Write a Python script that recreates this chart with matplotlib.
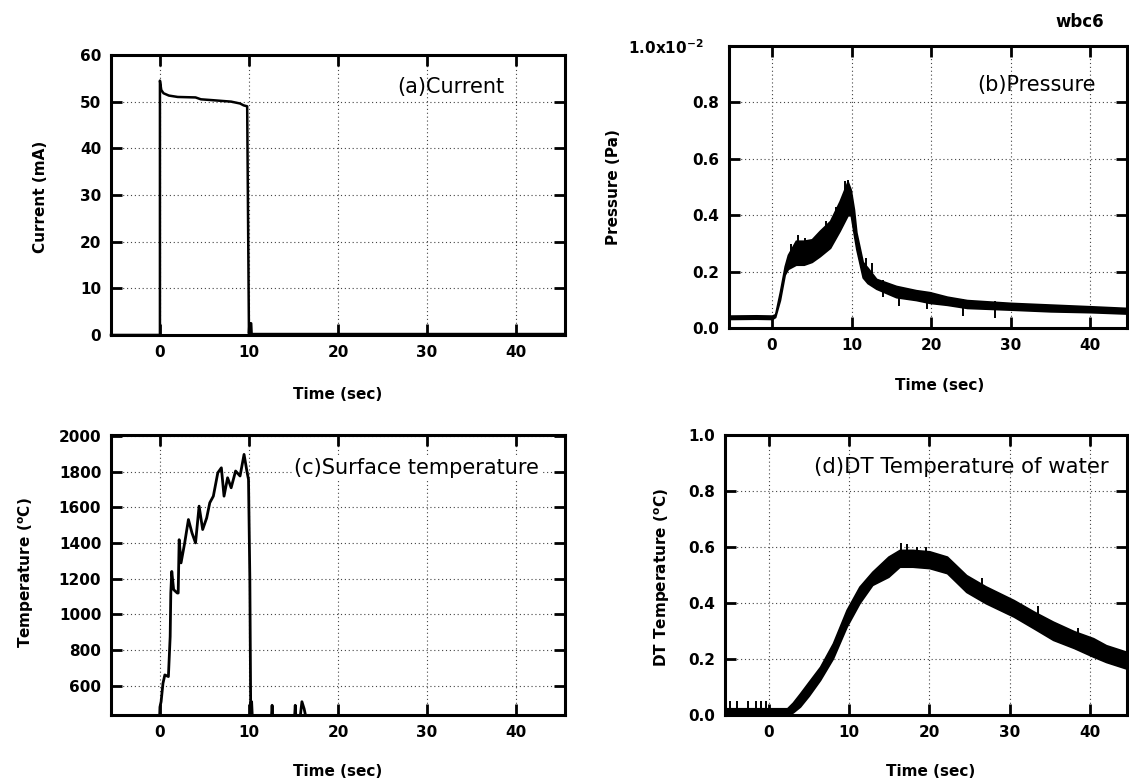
#! /usr/bin/python3
"""wbc6 -- current, pressure, surface temperature and water DT vs time."""
import matplotlib
matplotlib.use("Agg")
import matplotlib.pyplot as plt

plt.rcParams["font.family"] = ["DejaVu Sans"]
plt.rcParams["mathtext.fontset"] = "custom"
plt.rcParams["mathtext.rm"] = "DejaVu Sans"
plt.rcParams["mathtext.bf"] = "DejaVu Sans:bold"

# (a) discharge current, mA
cur_t = [-5.5, 0.0, 0.0, 0.15, 0.4, 1.0, 2.0, 4.0, 4.6, 6.0, 8.0, 9.0, 9.4,
         9.8, 10.0, 10.05, 10.25, 10.3, 45.5]
cur_v = [0.0, 0.0, 54.5, 52.5, 51.8, 51.3, 51.0, 50.9, 50.5, 50.3, 50.0, 49.6,
         49.2, 49.0, 0.3, 2.5, 2.5, 0.2, 0.2]

# (b) pressure, x1e-2 Pa : lower / upper edge of the noisy trace
p_t = [-5.4, -2.0, 0.0, 0.4, 1.0, 1.6, 2.0, 3.0, 4.0, 5.0, 6.0, 7.3, 8.5,
       9.5, 9.9, 10.3, 10.6, 11.4, 12.0, 13.1, 15.6, 18.1, 19.8, 22.0, 24.5,
       30.0, 35.0, 40.0, 44.7]
p_lo = [0.033, 0.034, 0.033, 0.04, 0.10, 0.19, 0.21, 0.225, 0.225, 0.235, 0.255,
        0.285, 0.345, 0.40, 0.40, 0.33, 0.28, 0.18, 0.16, 0.14, 0.11, 0.10, 0.09,
        0.083, 0.072, 0.066, 0.060, 0.057, 0.052]
p_hi = [0.045, 0.046, 0.045, 0.05, 0.13, 0.22, 0.26, 0.31, 0.31, 0.315, 0.345,
        0.38, 0.45, 0.52, 0.49, 0.42, 0.34, 0.235, 0.215, 0.175, 0.15, 0.135,
        0.128, 0.112, 0.10, 0.09, 0.084, 0.078, 0.072]
p_spike_t = [2.4, 3.3, 4.1, 5.6, 6.8, 8.1, 9.2, 9.6, 11.8, 12.6, 14.0, 16.0,
             19.5, 24.0, 28.0]
p_spike_v = [0.30, 0.33, 0.32, 0.33, 0.38, 0.43, 0.52, 0.525, 0.25, 0.23, 0.17,
             0.14, 0.13, 0.105, 0.095]

# (c) surface temperature, degC (400 = below pyrometer range)
s_t = [-5.5, -0.05, 0.0, 0.13, 0.34, 0.55, 0.95, 1.15, 1.22, 1.33, 1.54,
       1.95, 2.05, 2.16, 2.37, 2.78, 3.2, 3.6, 4.0, 4.4, 4.8, 5.25, 5.6, 6.0,
       6.5, 6.9, 7.2, 7.6, 8.0, 8.5, 9.0, 9.45, 9.8, 9.95, 10.1, 10.2, 10.25,
       10.3, 10.4, 12.5, 12.6, 12.7, 15.1, 15.2, 15.3, 15.7, 15.95, 16.2, 16.5]
s_v = [400, 400, 480, 510, 613, 660, 651, 875, 1119, 1240, 1138,
       1119, 1119, 1418, 1288, 1400, 1531, 1456, 1400, 1606, 1475, 1540, 1625,
       1662, 1793, 1821, 1662, 1765, 1709, 1803, 1775, 1896, 1793, 1756, 1200,
       434, 510, 510, 400, 400, 490, 400, 400, 490, 400, 400, 510, 470, 400]

# (d) DT temperature of water, degC : lower / upper edge of the trace
d_t = [-5.4, 2.3, 3.0, 3.9, 5.0, 6.4, 8.0, 9.7, 11.3, 12.9, 14.9, 16.3, 17.9,
       20.0, 22.2, 24.6, 27.0, 30.5, 33.0, 35.4, 38.0, 40.4, 42.0, 44.7]
d_lo = [0.0, 0.0, 0.01, 0.031, 0.07, 0.126, 0.203, 0.316, 0.40, 0.465, 0.494,
        0.53, 0.53, 0.525, 0.507, 0.44, 0.40, 0.352, 0.31, 0.269, 0.24, 0.209,
        0.19, 0.165]
d_hi = [0.025, 0.025, 0.045, 0.078, 0.12, 0.173, 0.257, 0.376, 0.459, 0.512,
        0.566, 0.59, 0.59, 0.585, 0.566, 0.50, 0.46, 0.411, 0.37, 0.334, 0.30,
        0.275, 0.25, 0.225]
d_spike_t = [-4.8, -4.0, -2.6, -1.6, -1.0, -0.3, 14.0, 16.5, 17.2, 18.5, 19.6,
             24.0, 26.5, 33.5, 38.5, 41.0]
d_spike_v = [0.05, 0.05, 0.05, 0.05, 0.05, 0.05, 0.53, 0.615, 0.61, 0.60, 0.60,
             0.52, 0.49, 0.39, 0.31, 0.26]

x_ticks = [0, 10, 20, 30, 40]
LAB = 11


def style(ax, xlim, ylim, yticks, ylabels, ylabel, xlab_xy, ylab_xy):
    ax.set_xlim(*xlim)
    ax.set_ylim(*ylim)
    ax.set_xticks(x_ticks)
    ax.set_yticks(yticks)
    ax.set_yticklabels(ylabels)
    ax.grid(True, color="#444444", linestyle=(0, (1, 2.5)), linewidth=0.8)
    ax.tick_params(direction="in", length=8, width=2, top=True, right=True,
                   labelsize=LAB, pad=7)
    for lab in ax.get_xticklabels() + ax.get_yticklabels():
        lab.set_fontweight("bold")
    for sp in ax.spines.values():
        sp.set_linewidth(2.2)
    xl = ax.set_xlabel("Time (sec)", fontsize=LAB, fontweight="bold")
    ax.xaxis.set_label_coords(*xlab_xy)
    xl.set_va("center")
    yl = ax.set_ylabel(ylabel, fontsize=LAB, fontweight="bold")
    ax.yaxis.set_label_coords(*ylab_xy)
    yl.set_va("center")
    yl.set_ha("center")


fig = plt.figure(figsize=(11.29, 7.83), dpi=100)
ax_a = fig.add_axes([0.0983, 0.5722, 0.4021, 0.3576])
ax_b = fig.add_axes([0.6457, 0.5807, 0.3525, 0.3609])
ax_c = fig.add_axes([0.0983, 0.0865, 0.4021, 0.3580])
ax_d = fig.add_axes([0.6424, 0.0865, 0.3558, 0.3580])

# (a)
ax_a.plot(cur_t, cur_v, color="black", lw=1.8, clip_on=False, zorder=3)
style(ax_a, (-5.5, 45.5), (0, 60), [0, 10, 20, 30, 40, 50, 60],
      ["0", "10", "20", "30", "40", "50", "60"], "Current (mA)",
      (0.5, -0.214), (-0.155, 0.494))
ax_a.text(0.866, 0.887, "(a)Current", transform=ax_a.transAxes, ha="right",
          va="center", fontsize=15)

# (b)
ax_b.fill_between(p_t, p_lo, p_hi, color="black", lw=1.2, edgecolor="black",
                  zorder=3)
ax_b.vlines(p_spike_t, [v - 0.06 for v in p_spike_v], p_spike_v,
            color="black", lw=1.4, zorder=3)
style(ax_b, (-5.4, 44.6), (0, 1.0), [0, 0.2, 0.4, 0.6, 0.8, 1.0],
      ["0.0", "0.2", "0.4", "0.6", "0.8", r"1.0x10$^{\mathbf{-2}}$"],
      "Pressure (Pa)", (0.53, -0.204), (-0.291, 0.501))
ax_b.get_yticklabels()[-1].set_x(-0.04)
ax_b.text(0.922, 0.861, "(b)Pressure", transform=ax_b.transAxes, ha="right",
          va="center", fontsize=15)

# (c)
ax_c.plot(s_t, s_v, color="black", lw=2.0, zorder=3)
style(ax_c, (-5.5, 45.5), (434, 2005),
      [600, 800, 1000, 1200, 1400, 1600, 1800, 2000],
      ["600", "800", "1000", "1200", "1400", "1600", "1800", "2000"],
      r"Temperature ($^{\mathbf{o}}$C)", (0.5, -0.202), (-0.187, 0.508))
ax_c.text(0.943, 0.882, "(c)Surface temperature", transform=ax_c.transAxes,
          ha="right", va="center", fontsize=15,
          bbox=dict(facecolor="white", edgecolor="none", pad=1))

# (d)
ax_d.fill_between(d_t, d_lo, d_hi, color="black", lw=1.2, edgecolor="black",
                  zorder=3)
ax_d.vlines(d_spike_t, [v - 0.05 for v in d_spike_v], d_spike_v,
            color="black", lw=1.4, zorder=3)
style(ax_d, (-5.4, 44.6), (0, 1.0), [0, 0.2, 0.4, 0.6, 0.8, 1.0],
      ["0.0", "0.2", "0.4", "0.6", "0.8", "1.0"],
      r"DT Temperature ($^{\mathbf{o}}$C)", (0.51, -0.202), (-0.158, 0.493))
ax_d.text(0.955, 0.887, "(d)DT Temperature of water", transform=ax_d.transAxes,
          ha="right", va="center", fontsize=15.3)

fig.text(1080 / 1129, 1 - 22 / 783, "wbc6", ha="center", va="center",
         fontsize=12, fontweight="bold")

fig.savefig("out.png", dpi=100)
